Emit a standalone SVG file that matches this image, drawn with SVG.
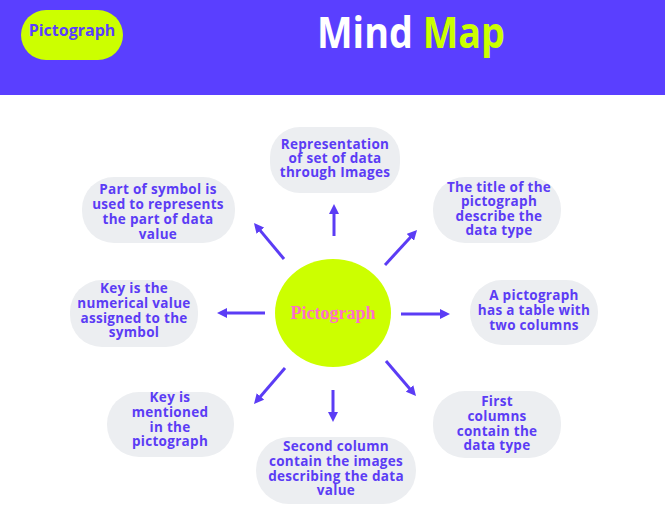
<svg xmlns="http://www.w3.org/2000/svg" width="665" height="524" viewBox="0 0 665 524">
<defs>
<style>
.box{fill:#ECEEF1}
.t{font-family:"Open Sans","DejaVu Sans",sans-serif;font-weight:700;font-size:13.5px;letter-spacing:0.3px;fill:#5B3CF5;text-anchor:middle}
.arr{stroke:#5B3CF5;stroke-width:3;fill:none;marker-end:url(#ah)}
</style>
<marker id="ah" viewBox="0 0 10 10" refX="4" refY="5" markerWidth="10" markerHeight="10" markerUnits="userSpaceOnUse" orient="auto">
<path d="M0,0 L10,5 L0,10 z" fill="#5B3CF5"/>
</marker>
</defs>
<rect width="665" height="524" fill="#FFFFFF"/>
<g id="header">
<rect x="0" y="0" width="665" height="95" fill="#5A3FFF"/>
<rect x="21" y="10" width="102" height="50" rx="25" fill="#CCFF00"/>
<text x="72" y="36" font-family="'Open Sans','DejaVu Sans',sans-serif" font-weight="700" font-size="16" fill="#5A3FFF" text-anchor="middle">Pictograph</text>
<text x="317" y="48" font-family="'Open Sans','DejaVu Sans',sans-serif" font-weight="700" font-size="43" textLength="188" lengthAdjust="spacingAndGlyphs"><tspan fill="#FFFFFF">Mind </tspan><tspan fill="#CCFF00">Map</tspan></text>
</g>
<g id="connectors">
<line class="arr" x1="334" y1="236" x2="334" y2="210"/>
<line class="arr" x1="284" y1="259" x2="257.8" y2="227.6"/>
<line class="arr" x1="385" y1="265" x2="413" y2="234.4"/>
<line class="arr" x1="265" y1="313" x2="223" y2="313"/>
<line class="arr" x1="401" y1="314" x2="444" y2="314"/>
<line class="arr" x1="285" y1="368" x2="257.9" y2="399.5"/>
<line class="arr" x1="333" y1="390" x2="333" y2="416"/>
<line class="arr" x1="386" y1="361" x2="412.1" y2="391.5"/>
</g>
<g id="center">
<ellipse cx="333" cy="313" rx="58" ry="54" fill="#CCFF00"/>
<text x="333" y="319" font-family="'Liberation Serif',serif" font-weight="700" font-size="18" fill="#FF6FC8" text-anchor="middle">Pictograph</text>
</g>
<g id="n-top">
<rect class="box" x="270" y="127" width="130" height="66" rx="30"/>
<text class="t" x="335" y="149">Representation</text>
<text class="t" x="335" y="163">of set of data</text>
<text class="t" x="335" y="177">through Images</text>
</g>
<g id="n-topleft">
<rect class="box" x="82" y="177" width="153" height="66" rx="32"/>
<text class="t" x="158" y="194">Part of symbol is</text>
<text class="t" x="158" y="209">used to represents</text>
<text class="t" x="158" y="224">the part of data</text>
<text class="t" x="158" y="239">value</text>
</g>
<g id="n-topright">
<rect class="box" x="433" y="177" width="128" height="66" rx="32"/>
<text class="t" x="499" y="192">The title of the</text>
<text class="t" x="499" y="206">pictograph</text>
<text class="t" x="499" y="221">describe the</text>
<text class="t" x="499" y="235">data type</text>
</g>
<g id="n-right">
<rect class="box" x="470" y="280" width="128" height="65" rx="32"/>
<text class="t" x="534" y="300">A pictograph</text>
<text class="t" x="534" y="315">has a table with</text>
<text class="t" x="534" y="330">two columns</text>
</g>
<g id="n-left">
<rect class="box" x="70" y="280" width="128" height="67" rx="32"/>
<text class="t" x="134" y="293">Key is the</text>
<text class="t" x="134" y="308">numerical value</text>
<text class="t" x="134" y="323">assigned to the</text>
<text class="t" x="134" y="337">symbol</text>
</g>
<g id="n-bottomleft">
<rect class="box" x="107" y="392" width="127" height="65" rx="32"/>
<text class="t" x="170" y="402">Key is</text>
<text class="t" x="170" y="417">mentioned</text>
<text class="t" x="170" y="432">in the</text>
<text class="t" x="170" y="446">pictograph</text>
</g>
<g id="n-bottom">
<rect class="box" x="256" y="437" width="160" height="67" rx="33"/>
<text class="t" x="336" y="451">Second column</text>
<text class="t" x="336" y="466">contain the images</text>
<text class="t" x="336" y="481">describing the data</text>
<text class="t" x="336" y="495">value</text>
</g>
<g id="n-bottomright">
<rect class="box" x="433" y="391" width="128" height="67" rx="32"/>
<text class="t" x="497" y="406">First</text>
<text class="t" x="497" y="421">columns</text>
<text class="t" x="497" y="436">contain the</text>
<text class="t" x="497" y="450">data type</text>
</g>
</svg>
